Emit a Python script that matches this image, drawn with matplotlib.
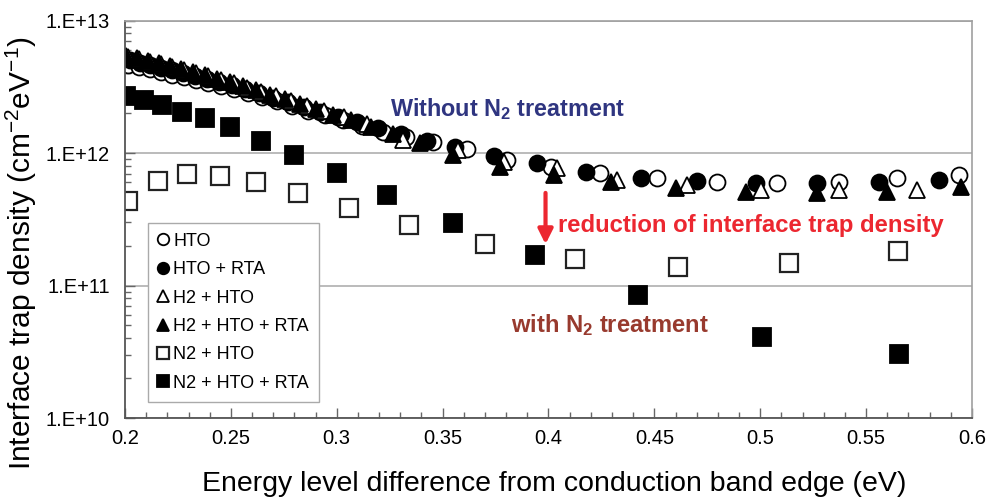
import numpy as np
import matplotlib
matplotlib.use('Agg')
import matplotlib.pyplot as plt
from matplotlib.ticker import MultipleLocator, LogLocator, FuncFormatter, NullFormatter

plt.rcParams['font.family'] = ['Liberation Sans', 'DejaVu Sans']
plt.rcParams['mathtext.fontset'] = 'custom'
plt.rcParams['mathtext.rm'] = 'Liberation Sans'
plt.rcParams['mathtext.bf'] = 'Liberation Sans:bold'
plt.rcParams['mathtext.it'] = 'Liberation Sans:italic'
plt.rcParams['mathtext.default'] = 'regular'

# ---- data (energy in eV, density in cm^-2 eV^-1) ----
hto_e = [0.2014, 0.2066, 0.2118, 0.2170, 0.2222, 0.2278, 0.2335, 0.2392, 0.2453, 0.2514,
         0.2580, 0.2646, 0.2717, 0.2788, 0.2863, 0.2943, 0.3028, 0.3118, 0.3217, 0.3325,
         0.3453, 0.3613, 0.3802, 0.4014, 0.4245, 0.4514, 0.4797, 0.5080, 0.5373, 0.5646, 0.5939]
hto_n = [4.61e12, 4.46e12, 4.27e12, 4.09e12, 3.91e12, 3.75e12, 3.56e12, 3.38e12, 3.20e12, 3.02e12,
         2.84e12, 2.65e12, 2.45e12, 2.26e12, 2.09e12, 1.92e12, 1.76e12, 1.60e12, 1.45e12, 1.32e12,
         1.21e12, 1.07e12, 8.85e11, 7.88e11, 7.03e11, 6.44e11, 6.07e11, 5.97e11, 6.07e11, 6.44e11, 6.82e11]

hto_rta_e = [0.2024, 0.2071, 0.2118, 0.2170, 0.2222, 0.2274, 0.2330, 0.2387, 0.2443, 0.2505,
             0.2566, 0.2632, 0.2698, 0.2769, 0.2844, 0.2920, 0.3005, 0.3094, 0.3193, 0.3302,
             0.3425, 0.3557, 0.3741, 0.3948, 0.4179, 0.4439, 0.4703, 0.4981, 0.5269, 0.5561, 0.5844]
hto_rta_n = [5.03e12, 4.82e12, 4.61e12, 4.41e12, 4.21e12, 4.02e12, 3.82e12, 3.62e12, 3.45e12, 3.25e12,
             3.04e12, 2.82e12, 2.62e12, 2.43e12, 2.23e12, 2.05e12, 1.87e12, 1.70e12, 1.54e12, 1.38e12,
             1.23e12, 1.11e12, 9.49e11, 8.40e11, 7.22e11, 6.44e11, 6.15e11, 5.91e11, 5.91e11, 6.07e11, 6.25e11]

h2_hto_e = [0.2014, 0.2066, 0.2118, 0.2170, 0.2222, 0.2278, 0.2335, 0.2392, 0.2453, 0.2514,
            0.2575, 0.2642, 0.2712, 0.2783, 0.2858, 0.2939, 0.3033, 0.3142, 0.3311, 0.3571,
            0.3792, 0.4038, 0.4325, 0.4656, 0.5005, 0.5373, 0.5741]
h2_hto_n = [5.30e12, 5.12e12, 4.90e12, 4.70e12, 4.46e12, 4.23e12, 4.02e12, 3.81e12, 3.56e12, 3.35e12,
            3.12e12, 2.91e12, 2.69e12, 2.49e12, 2.28e12, 2.07e12, 1.87e12, 1.66e12, 1.25e12, 1.05e12,
            8.60e11, 7.70e11, 6.25e11, 5.73e11, 5.26e11, 5.26e11, 5.26e11]

h2_hto_rta_e = [0.2005, 0.2057, 0.2108, 0.2160, 0.2212, 0.2264, 0.2321, 0.2377, 0.2434, 0.2495,
                0.2557, 0.2618, 0.2684, 0.2755, 0.2825, 0.2901, 0.2981, 0.3066, 0.3160, 0.3264,
                0.3392, 0.3547, 0.3769, 0.4024, 0.4297, 0.4604, 0.4934, 0.5269, 0.5599, 0.5948]
h2_hto_rta_n = [5.40e12, 5.21e12, 4.99e12, 4.82e12, 4.54e12, 4.31e12, 4.09e12, 3.88e12, 3.65e12, 3.43e12,
                3.20e12, 2.99e12, 2.76e12, 2.56e12, 2.34e12, 2.15e12, 1.95e12, 1.76e12, 1.57e12, 1.39e12,
                1.19e12, 9.66e11, 7.89e11, 6.82e11, 6.07e11, 5.42e11, 5.11e11, 4.98e11, 5.11e11, 5.57e11]

n2_hto_e = [0.2016, 0.2154, 0.2292, 0.2450, 0.2620, 0.2819, 0.3059, 0.3341, 0.3700,
            0.4127, 0.4612, 0.5137, 0.5652]
n2_hto_n = [4.37e11, 6.19e11, 6.95e11, 6.76e11, 6.07e11, 5.03e11, 3.83e11, 2.86e11, 2.06e11,
            1.58e11, 1.37e11, 1.47e11, 1.82e11]

n2_hto_rta_e = [0.2005, 0.2090, 0.2173, 0.2270, 0.2378, 0.2496, 0.2640, 0.2800, 0.3000, 0.3236,
                0.3548, 0.3937, 0.4425, 0.5006, 0.5653]
n2_hto_rta_n = [2.69e12, 2.51e12, 2.30e12, 2.04e12, 1.84e12, 1.57e12, 1.24e12, 9.66e11, 7.07e11, 4.82e11,
                2.96e11, 1.70e11, 8.47e10, 4.06e10, 3.04e10]

labels = ['HTO', 'HTO + RTA', 'H2 + HTO', 'H2 + HTO + RTA', 'N2 + HTO', 'N2 + HTO + RTA']

# ---- figure ----
fig = plt.figure(figsize=(9.88, 4.99), dpi=100)
ax = fig.add_axes([0.1265, 0.1623, 0.8573, 0.7966])
ax.set_yscale('log')

mew = 1.3
ax.plot(hto_e, hto_n, ls='none', marker='o', ms=11.5, mfc='white', mec='black', mew=mew, label=labels[0])
ax.plot(hto_rta_e, hto_rta_n, ls='none', marker='o', ms=11.5, mfc='black', mec='black', mew=mew, label=labels[1])
ax.plot(h2_hto_e, h2_hto_n, ls='none', marker='^', ms=12, mfc='white', mec='black', mew=mew, label=labels[2])
ax.plot(h2_hto_rta_e, h2_hto_rta_n, ls='none', marker='^', ms=12, mfc='black', mec='black', mew=mew, label=labels[3])
ax.plot(n2_hto_e, n2_hto_n, ls='none', marker='s', ms=12.5, mfc='white', mec='#222222', mew=1.6, label=labels[4])
ax.plot(n2_hto_rta_e, n2_hto_rta_n, ls='none', marker='s', ms=12.5, mfc='black', mec='black', mew=mew, label=labels[5])

ax.set_xlim(0.2, 0.6)
ax.set_ylim(1e10, 1e13)

ax.xaxis.set_major_locator(MultipleLocator(0.05))
ax.xaxis.set_minor_locator(MultipleLocator(0.01))
ax.xaxis.set_major_formatter(FuncFormatter(lambda v, p: f'{v:g}'))
ax.yaxis.set_major_locator(LogLocator(base=10, numticks=10))
ax.yaxis.set_minor_locator(LogLocator(base=10, subs=np.arange(2, 10), numticks=20))
ax.yaxis.set_major_formatter(FuncFormatter(lambda v, p: '1.E+%d' % int(round(np.log10(v)))))
ax.yaxis.set_minor_formatter(NullFormatter())

ax.tick_params(which='both', direction='in', color='#666666', width=1)
ax.tick_params(which='major', length=7, labelsize=14.5)
ax.tick_params(which='minor', length=4)
ax.tick_params(axis='y', which='major', pad=11)
ax.tick_params(axis='x', which='major', pad=8)

ax.yaxis.grid(True, which='major', color='#a8a8a8', lw=1.1)
ax.set_axisbelow(True)
for s in ['top', 'right']:
    ax.spines[s].set_color('#a0a0a0')
    ax.spines[s].set_linewidth(1.2)
for s in ['left', 'bottom']:
    ax.spines[s].set_color('#555555')
    ax.spines[s].set_linewidth(1.3)

ax.set_xlabel('Energy level difference from conduction band edge (eV)', fontsize=20.5)
ax.xaxis.set_label_coords(0.5065, -0.134)
ax.set_ylabel('Interface trap density (cm$^{-2}$eV$^{-1}$)', fontsize=21.5)
ax.yaxis.set_label_coords(-0.101, 0.415)

leg = ax.legend(loc='upper left', bbox_to_anchor=(0.027, 0.491), fontsize=13,
                markerscale=0.72, handlelength=0.6, handletextpad=0.25, labelspacing=0.63,
                borderpad=0.55, borderaxespad=0, fancybox=False, framealpha=1,
                edgecolor='#aaaaaa')
leg.get_frame().set_linewidth(1.0)

# ---- annotations ----
ax.text(0.325, 2.15e12, 'Without $\\mathbf{N_2}$ treatment', fontsize=16.8, fontweight='bold',
        color='#2f3580', va='center', ha='left')
ax.text(0.4047, 2.86e11, 'reduction of interface trap density', fontsize=17.2, fontweight='bold',
        color='#ec2730', va='center', ha='left')
ax.text(0.3825, 5.04e10, 'with $\\mathbf{N_2}$ treatment', fontsize=17.1, fontweight='bold',
        color='#983a2e', va='center', ha='left')
ax.annotate('', xy=(0.3986, 2.05e11), xytext=(0.3986, 5.0e11),
            arrowprops=dict(arrowstyle='-|>', color='#ec2730', lw=3, mutation_scale=22,
                            shrinkA=0, shrinkB=0))

fig.savefig('out.png', dpi=100)
